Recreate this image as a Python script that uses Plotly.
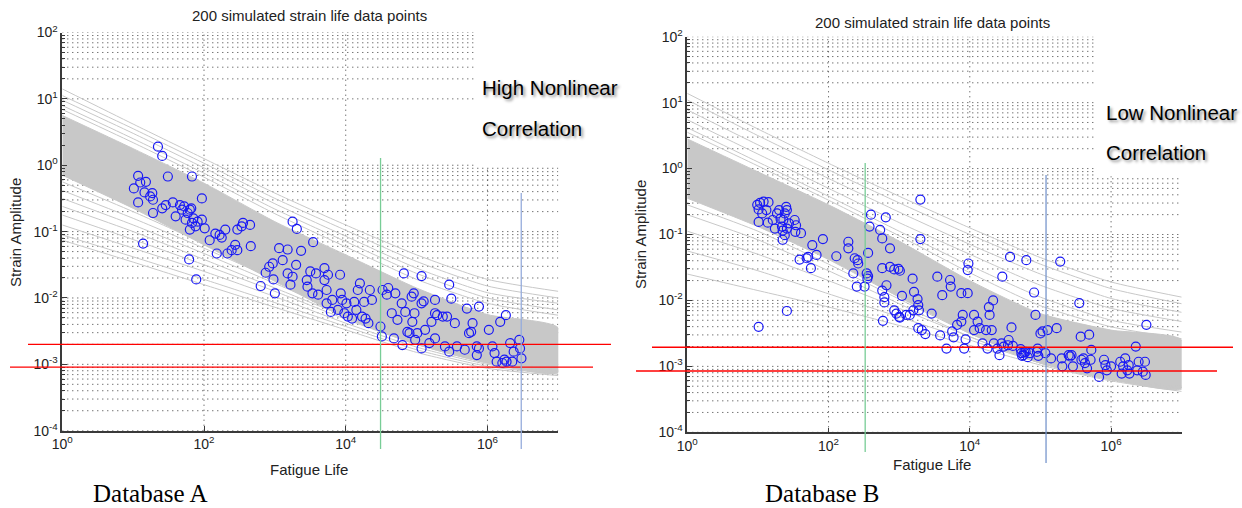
import numpy as np
import plotly.graph_objects as go

W, H = 1242, 508

# ---------------------------------------------------------------------------
# Data (strain and life stored as log10 values read on the log-log axes)
# ---------------------------------------------------------------------------
life_grid_log = [0, 1, 2, 3, 4, 5, 6, 7]          # log10 fatigue life for curve tables

# Database A: dense core of the simulated curves (upper / lower edge)
a_core_upper = [0.75, 0.25, -0.27, -0.85, -1.35, -1.85, -2.25, -2.45]
a_core_lower = [-0.15, -0.65, -1.2, -1.75, -2.3, -2.7, -2.98, -3.12]
# Database A: individual curves outside the core
a_curves = [
    [1.15, 0.62, 0.10, -0.42, -0.90, -1.35, -1.72, -1.90],
    [1.05, 0.55, 0.03, -0.50, -0.98, -1.45, -1.82, -2.00],
    [0.98, 0.48, -0.04, -0.58, -1.07, -1.55, -1.92, -2.08],
    [0.90, 0.40, -0.12, -0.66, -1.15, -1.63, -2.00, -2.18],
    [0.84, 0.34, -0.18, -0.73, -1.23, -1.72, -2.08, -2.26],
    [-0.25, -0.70, -1.18, -1.68, -2.18, -2.60, -2.92, -3.08],
    [-0.38, -0.80, -1.25, -1.72, -2.20, -2.62, -2.93, -3.08],
    [-0.50, -0.90, -1.33, -1.78, -2.24, -2.65, -2.95, -3.10],
    [-0.62, -1.00, -1.42, -1.85, -2.28, -2.68, -2.96, -3.10],
    [-0.75, -1.12, -1.50, -1.90, -2.32, -2.70, -2.98, -3.12],
    [-0.90, -1.25, -1.60, -1.98, -2.38, -2.74, -3.00, -3.13],
    [-1.05, -1.38, -1.72, -2.07, -2.43, -2.78, -3.03, -3.15],
    [-1.13, -1.46, -1.80, -2.14, -2.48, -2.82, -3.06, -3.17],
]
# Database A: data points (log10 life, log10 strain amplitude)
a_points = [
    (1.35, 0.28), (1.41, 0.14), (1.07, -0.16), (1.01, -0.35), (1.10, -0.26),
    (1.18, -0.25), (1.07, -0.56), (1.16, -0.41), (1.27, -0.42), (1.28, -0.52),
    (1.24, -0.47), (1.49, -0.17), (1.83, -0.17), (1.14, -1.18), (1.28, -0.72),
    (1.41, -0.65), (1.46, -0.60), (1.56, -0.56), (1.60, -0.77), (1.66, -0.60),
    (1.69, -0.67), (1.72, -0.62), (1.77, -0.72), (1.80, -0.67), (1.82, -0.65),
    (1.74, -0.82), (1.83, -0.87), (1.85, -0.80), (1.91, -0.85), (1.97, -0.82),
    (1.97, -0.50), (2.01, -0.95), (1.79, -1.42), (1.89, -1.72), (1.80, -0.97),
    (1.88, -0.92), (2.08, -1.13), (2.18, -1.33), (2.16, -1.03), (2.22, -1.05),
    (2.25, -1.09), (2.30, -0.97), (2.33, -1.33), (2.39, -1.28), (2.44, -1.20),
    (2.47, -0.97), (2.53, -0.92), (2.55, -0.87), (2.65, -0.90), (2.66, -1.22),
    (2.47, -1.28), (2.80, -1.82), (2.87, -1.62), (2.92, -1.53), (2.97, -1.48),
    (2.98, -1.72), (3.00, -1.93), (3.06, -1.25), (3.11, -1.43), (3.18, -1.27),
    (3.18, -1.63), (3.22, -1.80), (3.25, -1.68), (3.30, -1.50), (3.25, -0.85),
    (3.31, -0.96), (3.37, -1.29), (3.45, -1.73), (3.46, -1.83), (3.53, -1.93),
    (3.50, -1.60), (3.54, -1.16), (3.58, -1.63), (3.61, -1.95), (3.70, -1.55),
    (3.70, -1.73), (3.73, -1.88), (3.73, -2.08), (3.75, -1.65), (3.79, -2.21),
    (3.81, -2.03), (3.89, -2.18), (3.92, -1.65), (3.93, -1.93), (3.95, -2.03),
    (3.98, -2.23), (4.01, -2.08), (4.03, -2.28), (4.09, -2.31), (4.12, -2.06),
    (4.15, -2.18), (4.17, -1.88), (4.20, -1.78), (4.23, -2.28), (4.26, -2.06),
    (4.28, -2.31), (4.32, -2.38), (4.34, -1.88), (4.37, -2.03), (4.49, -2.43),
    (4.51, -2.58), (4.52, -1.88), (4.58, -1.95), (4.60, -1.85), (4.65, -2.23),
    (4.68, -2.61), (4.70, -1.93), (4.73, -2.33), (4.79, -2.08), (4.80, -2.71),
    (4.82, -1.63), (4.84, -2.21), (4.87, -2.51), (4.90, -2.53), (4.93, -1.98),
    (4.94, -2.36), (4.96, -1.93), (4.97, -2.23), (4.98, -2.63), (5.01, -2.53),
    (5.07, -2.08), (5.07, -2.76), (5.07, -1.67), (5.10, -2.05), (5.12, -2.48),
    (5.18, -2.68), (5.21, -2.36), (5.26, -2.23), (5.26, -2.61), (5.26, -2.03),
    (5.29, -2.26), (5.37, -2.28), (5.40, -2.73), (5.43, -2.28), (5.46, -1.80),
    (5.46, -2.81), (5.49, -2.01), (5.54, -2.38), (5.57, -2.73), (5.68, -2.78),
    (5.71, -2.16), (5.74, -2.53), (5.77, -2.51), (5.79, -2.38), (5.85, -2.73),
    (5.88, -2.76), (5.88, -2.13), (5.85, -2.86), (6.02, -2.48), (6.07, -2.73),
    (6.10, -2.83), (6.13, -2.96), (6.18, -2.36), (6.24, -2.93), (6.26, -2.26),
    (6.21, -2.98), (6.27, -2.96), (6.32, -2.68), (6.35, -2.96), (6.37, -2.81),
    (6.45, -2.63), (6.46, -2.76), (6.48, -2.91),
]

# Database B
b_core_upper = [0.45, -0.05, -0.55, -1.1, -1.7, -2.2, -2.45, -2.6]
b_core_lower = [-0.45, -0.88, -1.38, -1.95, -2.5, -2.95, -3.2, -3.33]
b_curves = [
    [1.14, 0.60, 0.08, -0.42, -0.90, -1.35, -1.72, -1.95],
    [1.04, 0.50, -0.02, -0.52, -1.00, -1.45, -1.82, -2.05],
    [0.89, 0.36, -0.15, -0.66, -1.15, -1.60, -1.97, -2.18],
    [0.74, 0.22, -0.30, -0.82, -1.30, -1.77, -2.12, -2.32],
    [0.62, 0.10, -0.42, -0.95, -1.47, -1.95, -2.30, -2.48],
    [0.55, 0.04, -0.48, -1.02, -1.58, -2.08, -2.40, -2.58],
    [-0.55, -0.95, -1.45, -1.98, -2.50, -2.92, -3.18, -3.30],
    [-0.70, -1.08, -1.55, -2.05, -2.55, -2.95, -3.20, -3.32],
    [-0.95, -1.30, -1.70, -2.12, -2.55, -2.95, -3.20, -3.33],
    [-1.25, -1.55, -1.90, -2.25, -2.60, -2.95, -3.20, -3.35],
    [-1.60, -1.85, -2.10, -2.38, -2.68, -2.98, -3.22, -3.38],
]
b_points = [
    (0.99, -0.55), (1.01, -0.62), (1.03, -0.52), (1.06, -0.68), (1.08, -0.50),
    (1.12, -0.63), (1.15, -0.51), (1.01, -0.81), (1.14, -0.82), (1.21, -0.78),
    (1.24, -0.91), (1.27, -0.68), (1.30, -0.63), (1.32, -0.76), (1.34, -0.88),
    (1.35, -0.94), (1.36, -0.78), (1.38, -0.68), (1.40, -0.58), (1.41, -0.63),
    (1.35, -1.08), (1.38, -1.01), (1.41, -0.91), (1.44, -0.83), (1.52, -0.78),
    (1.54, -0.86), (1.53, -0.96), (1.61, -0.98), (1.01, -2.40), (1.41, -2.16),
    (1.59, -1.38), (1.69, -1.36), (1.71, -1.34), (1.75, -1.51), (1.77, -1.16),
    (1.83, -1.31), (1.92, -1.07), (2.11, -1.33), (2.28, -1.11), (2.28, -1.21),
    (2.37, -1.36), (2.41, -1.39), (2.42, -1.44), (2.35, -1.59), (2.40, -1.79),
    (2.51, -1.79), (2.54, -1.59), (2.56, -1.63), (2.55, -1.67), (2.56, -1.28),
    (2.58, -0.88), (2.60, -0.70), (2.73, -0.93), (2.76, -1.06), (2.81, -0.74),
    (2.87, -1.21), (2.76, -1.51), (2.82, -1.77), (2.76, -1.85), (2.79, -1.95),
    (2.79, -2.03), (2.77, -2.31), (2.87, -1.49), (2.93, -1.53), (2.99, -1.52),
    (3.01, -1.55), (2.93, -2.15), (2.96, -2.20), (3.01, -2.26), (3.04, -1.93),
    (3.00, -2.25), (3.10, -2.22), (3.15, -2.22), (3.20, -2.15), (3.19, -1.67),
    (3.21, -1.87), (3.26, -1.98), (3.27, -2.07), (3.28, -2.15), (3.30, -0.47),
    (3.30, -1.07), (3.27, -2.42), (3.32, -2.45), (3.37, -2.51), (3.46, -2.20),
    (3.54, -1.64), (3.58, -2.53), (3.61, -1.92), (3.67, -2.73), (3.72, -1.69),
    (3.73, -1.79), (3.75, -2.47), (3.77, -2.56), (3.82, -2.37), (3.88, -2.32),
    (3.88, -1.89), (3.90, -2.22), (3.92, -2.73), (3.94, -2.59), (3.97, -1.89),
    (3.98, -1.44), (3.97, -1.54), (4.06, -2.22), (4.06, -2.45), (4.11, -2.32),
    (4.14, -2.42), (4.18, -2.65), (4.23, -2.45), (4.25, -2.73), (4.27, -2.10),
    (4.28, -2.22), (4.31, -2.45), (4.33, -2.00), (4.34, -2.65), (4.39, -2.73),
    (4.42, -2.83), (4.45, -2.65), (4.46, -1.64), (4.48, -2.70), (4.54, -2.68),
    (4.55, -2.60), (4.57, -1.34), (4.59, -2.41), (4.61, -2.69), (4.72, -2.74),
    (4.73, -2.80), (4.76, -2.83), (4.79, -2.78), (4.80, -1.39), (4.82, -2.86),
    (4.85, -2.80), (4.74, -2.84), (4.77, -2.79), (4.91, -1.88), (4.93, -2.22),
    (4.95, -2.78), (4.96, -2.73), (4.97, -2.84), (5.00, -2.50), (5.03, -2.47),
    (5.07, -2.80), (5.10, -2.45), (5.15, -2.88), (5.23, -2.42), (5.28, -1.41),
    (5.30, -2.88), (5.31, -3.00), (5.40, -2.83), (5.44, -2.83), (5.42, -2.85),
    (5.46, -3.00), (5.55, -2.04), (5.57, -2.55), (5.58, -2.90), (5.61, -2.88),
    (5.63, -2.95), (5.66, -3.03), (5.69, -2.52), (5.71, -2.90), (5.72, -2.75),
    (5.83, -3.16), (5.90, -2.90), (5.92, -2.98), (5.94, -3.06), (6.00, -3.00),
    (6.13, -2.93), (6.15, -3.11), (6.17, -3.00), (6.20, -2.88), (6.23, -3.06),
    (6.25, -2.98), (6.26, -3.11), (6.35, -2.70), (6.37, -3.06), (6.39, -2.93),
    (6.45, -3.08), (6.48, -2.93), (6.49, -3.13), (6.50, -2.37),
]

# Reference levels
a_strain_levels = [2.0e-3, 9.1e-4]
b_strain_levels = [1.95e-3, 8.5e-4]
a_life_marks = [3.1e4, 3.0e6]
b_life_marks = [3.3e2, 1.2e5]

x_tick_vals = [1e0, 1e2, 1e4, 1e6]
x_tick_text = ["10<sup>0</sup>", "10<sup>2</sup>", "10<sup>4</sup>", "10<sup>6</sup>"]
y_tick_vals = [1e-4, 1e-3, 1e-2, 1e-1, 1e0, 1e1, 1e2]
y_tick_text = ["10<sup>-4</sup>", "10<sup>-3</sup>", "10<sup>-2</sup>", "10<sup>-1</sup>",
               "10<sup>0</sup>", "10<sup>1</sup>", "10<sup>2</sup>"]

title_text = "200 simulated strain life data points"

# ---------------------------------------------------------------------------
# Layout geometry (pixels -> paper)
# ---------------------------------------------------------------------------
def px(x):
    return x / W


def py(y):
    return 1 - y / H


panels = {
    "A": dict(xd=[px(62.3), px(558.3)], yd=[py(430.7), py(32.5)]),
    "B": dict(xd=[px(687.3), px(1181.7)], yd=[py(432.3), py(36.7)]),
}

SANS = "Liberation Sans, Arial, Helvetica, sans-serif"
SERIF = "Liberation Serif, Times New Roman, serif"

GRAY = "rgb(200,200,200)"
GRID = "#3a3a3a"

fig = go.Figure()


def add_grid(xa, ya, box_life_log, box_strain_log, skip_decade=None):
    """MATLAB-style dotted grid, trimmed where the label box sits."""
    hx, hy = [], []
    for d in range(-4, 3):
        for m in range(1, 10):
            if d == 2 and m > 1:
                break
            if d == skip_decade and m > 1:
                continue  # no minor grid drawn in this decade
            v = m * 10.0 ** d
            x_end = 10 ** box_life_log if np.log10(v) > box_strain_log else 1e7
            hx += [1e0, x_end, None]
            hy += [v, v, None]
    vx, vy = [], []
    for g in [1e2, 1e4, 1e6]:
        top = 10 ** box_strain_log if np.log10(g) > box_life_log else 1e2
        vx += [g, g, None]
        vy += [1e-4, top, None]
    style = dict(color=GRID, width=1, dash="1px,4px")
    fig.add_trace(go.Scatter(x=hx, y=hy, mode="lines", line=style, hoverinfo="skip",
                             showlegend=False, xaxis=xa, yaxis=ya))
    fig.add_trace(go.Scatter(x=vx, y=vy, mode="lines", line=style, hoverinfo="skip",
                             showlegend=False, xaxis=xa, yaxis=ya))


def add_panel(xa, ya, core_up, core_lo, curves, points):
    life = [10.0 ** v for v in life_grid_log]
    # dense band of simulated curves
    fig.add_trace(go.Scatter(
        x=life + life[::-1],
        y=[10.0 ** v for v in core_up] + [10.0 ** v for v in core_lo[::-1]],
        fill="toself", fillcolor=GRAY, mode="lines",
        line=dict(color=GRAY, width=1, shape="spline", smoothing=0.6),
        hoverinfo="skip", showlegend=False, xaxis=xa, yaxis=ya))
    for c in curves:
        fig.add_trace(go.Scatter(
            x=life, y=[10.0 ** v for v in c], mode="lines",
            line=dict(color=GRAY, width=1, shape="spline", smoothing=0.6),
            hoverinfo="skip", showlegend=False, xaxis=xa, yaxis=ya))
    fig.add_trace(go.Scatter(
        x=[10.0 ** p[0] for p in points], y=[10.0 ** p[1] for p in points],
        mode="markers",
        marker=dict(symbol="circle-open", size=9, color="rgb(25,25,245)",
                    line=dict(width=1.2, color="rgb(25,25,245)")),
        hoverinfo="skip", showlegend=False, xaxis=xa, yaxis=ya))


add_grid("x", "y", 5.80, -0.02, skip_decade=0)
add_panel("x", "y", a_core_upper, a_core_lower, a_curves, a_points)
add_grid("x2", "y2", 5.77, -0.12)
add_panel("x2", "y2", b_core_upper, b_core_lower, b_curves, b_points)

axis_common = dict(type="log", showgrid=False, zeroline=False, showline=True,
                   linecolor="#3a3a3a", linewidth=1.5, ticks="inside", ticklen=5,
                   tickcolor="#3a3a3a", tickmode="array", automargin=False,
                   tickfont=dict(family=SANS, size=14, color="#222"))

minor_y = [m * 10.0 ** d for d in range(-4, 2) for m in range(2, 10)]

for key, p in panels.items():
    sx = "" if key == "A" else "2"
    fig.update_layout(**{
        "xaxis" + sx: dict(axis_common, domain=p["xd"], range=[0, 7],
                           tickvals=x_tick_vals, ticktext=x_tick_text,
                           anchor="y" + sx),
        "yaxis" + sx: dict(axis_common, domain=p["yd"], range=[-4, 2],
                           tickvals=y_tick_vals, ticktext=y_tick_text,
                           anchor="x" + sx,
                           minor=dict(tickvals=minor_y, ticks="inside", ticklen=3,
                                      tickcolor="#3a3a3a", showgrid=False)),
    })

shapes = []


def hline(ya, v, x0, x1):
    shapes.append(dict(type="line", xref="paper", yref=ya, x0=px(x0), x1=px(x1),
                       y0=v, y1=v, line=dict(color="#ff0000", width=1.3), layer="above"))


def vline(xa, v, y0, y1, color):
    shapes.append(dict(type="line", xref=xa, yref="paper", x0=v, x1=v,
                       y0=py(y0), y1=py(y1), line=dict(color=color, width=1.3), layer="above"))


hline("y", a_strain_levels[0], 28, 611)
hline("y", a_strain_levels[1], 10, 593)
hline("y2", b_strain_levels[0], 652, 1233)
hline("y2", b_strain_levels[1], 636, 1217)
vline("x", a_life_marks[0], 158, 449, "rgb(120,205,150)")
vline("x", a_life_marks[1], 193, 449, "rgb(150,172,220)")
vline("x2", b_life_marks[0], 163, 452, "rgb(120,205,150)")
vline("x2", b_life_marks[1], 175, 463, "rgb(120,150,205)")

ann = []


def text(x, y, s, size, family=SANS, color="#222", shadow=None, **kw):
    font = dict(family=family, size=size, color=color)
    if shadow:
        font["shadow"] = shadow
    d = dict(x=px(x), y=py(y), xref="paper", yref="paper", text=s, showarrow=False,
             font=font, xanchor="center", yanchor="middle")
    d.update(kw)
    ann.append(d)


text(309, 16, title_text, 15)
text(932, 22, title_text, 15)
text(309, 469, "Fatigue Life", 15)
text(932, 464, "Fatigue Life", 15)
text(15, 233, "Strain Amplitude", 15, textangle=-90)
text(640, 235, "Strain Amplitude", 15, textangle=-90)
text(91, 493, "Database A", 25, family=SERIF, color="#000", xanchor="left")
text(763, 493, "Database B", 25, family=SERIF, color="#000", xanchor="left")

sh = "2px 2px 3px rgba(0,0,0,0.45)"
for x, y, s in [(480, 87, "High Nonlinear"), (480, 128, "Correlation"),
                (1104, 112, "Low Nonlinear"), (1104, 152, "Correlation")]:
    text(x, y, s, 20.5, family=SANS, color="#000", xanchor="left", shadow=sh)

fig.update_layout(template="none", width=W, height=H,
                  margin=dict(l=0, r=0, t=0, b=0),
                  paper_bgcolor="white", plot_bgcolor="white",
                  shapes=shapes, annotations=ann, showlegend=False)

fig.write_html("out.html")
